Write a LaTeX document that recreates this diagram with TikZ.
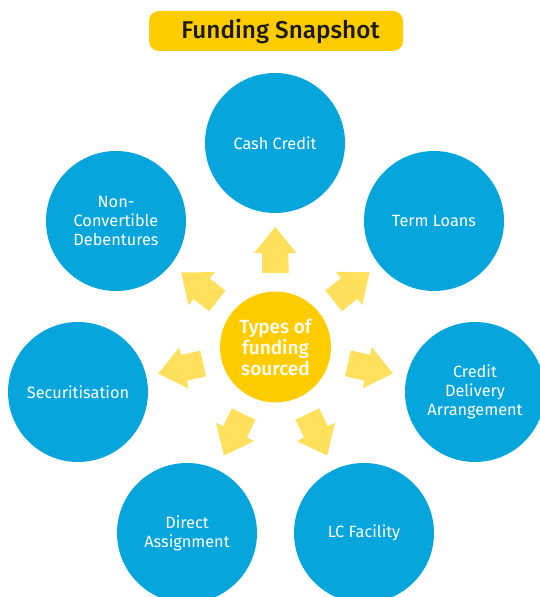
\documentclass[tikz,border=0pt]{standalone}
\usepackage{fontspec}
\setmainfont{Fira Sans}
\newfontfamily\titlefont{Fira Sans Medium}
\usetikzlibrary{shapes.arrows,calc}
\definecolor{cblue}{HTML}{06A5DC}
\definecolor{cyel}{HTML}{FFCC00}
\definecolor{carrow}{HTML}{FFE05C}
\definecolor{ctext}{HTML}{1A1A1A}
\tikzset{
  x=1pt,y=1pt,
  outer/.style={circle,fill=cblue,minimum size=140pt,inner sep=0pt,text=white,align=center,
     font=\fontsize{16.3}{19}\selectfont},
  hub/.style={circle,fill=cyel,minimum size=111pt,inner sep=0pt,text=white,align=center,
     font=\fontsize{19}{21}\selectfont\titlefont},
  sarrow/.style={single arrow,fill=carrow,draw=none,inner xsep=0pt,inner ysep=13pt,
     minimum height=46pt,single arrow head extend=8pt,single arrow tip angle=78},
  titlebox/.style={rounded corners=10pt,fill=cyel,minimum width=254pt,minimum height=40pt,
     text=ctext,font=\fontsize{24.3}{26}\selectfont\titlefont}
}
\begin{document}
\begin{tikzpicture}
\useasboundingbox (0,0) rectangle (540,597);
\node[titlebox] (title) at (276,566) {\hspace*{9pt}Funding Snapshot};
\node[hub] (c) at (275.5,250) {Types of\\funding\\sourced};
\node[outer] (cash) at (275,454) {Cash Credit};
\node[outer] (term) at (434,376) {Term Loans};
\node[outer] (cda) at (475,205) {Credit\\Delivery\\Arrangement};
\node[outer] (lc) at (364,64) {LC Facility};
\node[outer] (da) at (187,64) {Direct\\Assignment};
\node[outer] (sec) at (78,205) {Securitisation};
\node[outer] (ncd) at (116,376) {Non-\\Convertible\\Debentures};
\foreach \t/\a in {cash/1,term/2,cda/3,lc/4,da/5,sec/6,ncd/7}{
  \path let \p1=($(\t)-(c)$), \n1={atan2(\y1,\x1)} in
    node[sarrow,rotate=\n1,anchor=tail] (a\a) at ($(c)+(\n1:74)$) {};
}
\end{tikzpicture}
\end{document}
